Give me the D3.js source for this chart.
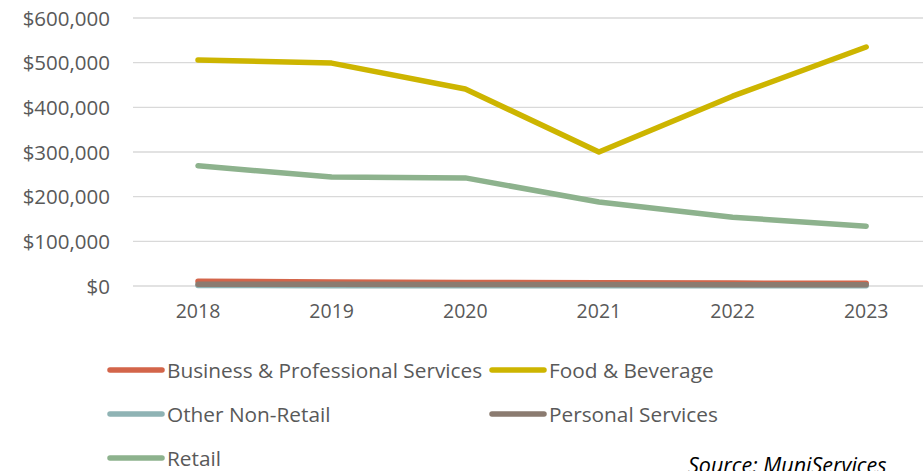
<!DOCTYPE html>
<html><head><meta charset="utf-8">
<script src="https://cdn.jsdelivr.net/npm/d3@7"></script>
<style>body{margin:0;background:#fff;overflow:hidden}svg{display:block}</style>
</head><body><svg id="c" width="923" height="471"></svg>
<script>
const years = ["2018","2019","2020","2021","2022","2023"];
const seriesNames = ["Business & Professional Services","Food & Beverage","Other Non-Retail","Personal Services","Retail"];
const businessProfessional = [10500, 9000, 8000, 7500, 6500, 6000];
const foodBeverage = [506000, 499000, 441000, 300000, 425000, 535000];
const otherNonRetail = [1000, 800, 700, 600, 600, 500];
const personalServices = [4000, 3800, 3500, 3200, 3000, 3000];
const retail = [269000, 244000, 242000, 188000, 154000, 134000];
const yTicks = [0, 100000, 200000, 300000, 400000, 500000, 600000];
const colors = ["#D3654A", "#CDB500", "#8FB3B4", "#8B7B70", "#8DB28D"];

const seriesValues = [businessProfessional, foodBeverage, otherNonRetail, personalServices, retail];
const svg = d3.select("#c");
const font = "'Open Sans',sans-serif";
const x = d3.scaleBand().domain(years).range([131.2, 933]);
const y = d3.scaleLinear().domain([0, 600000]).range([286, 18]);

// gridlines
svg.append("g").selectAll("line").data(yTicks).join("line")
  .attr("x1", 133).attr("x2", 923)
  .attr("y1", d => y(d)).attr("y2", d => y(d))
  .attr("stroke", "#d9d9d9").attr("stroke-width", 1.3);

// y axis labels
const yAxis = d3.axisLeft(y).tickValues(yTicks).tickSize(0).tickPadding(0)
  .tickFormat(d => "$" + d3.format(",")(d));
const ga = svg.append("g").attr("transform", "translate(110,0)").call(yAxis);
ga.select(".domain").remove();
ga.selectAll("text").attr("font-family", font).attr("font-size", 20.5).attr("fill", "#595959").attr("dy", "0.35em");

// x axis labels
const xAxis = d3.axisBottom(x).tickSize(0).tickPadding(0);
const gx = svg.append("g").attr("transform", "translate(0,304)").call(xAxis);
gx.select(".domain").remove();
gx.selectAll("text").attr("font-family", font).attr("font-size", 19.5).attr("fill", "#595959").attr("dy", "0.71em");

const line = d3.line().x((d, i) => x(years[i]) + x.bandwidth() / 2).y(d => y(d));
const drawOrder = [4, 1, 0, 2, 3];
svg.append("g").selectAll("path").data(drawOrder).join("path")
  .attr("d", k => line(seriesValues[k]))
  .attr("fill", "none").attr("stroke", k => colors[k])
  .attr("stroke-width", 5.5).attr("stroke-linecap", "round").attr("stroke-linejoin", "round");

// legend
const legendPos = [[108, 370], [490, 370], [108, 414], [490, 414], [108, 458]];
const lg = svg.append("g").selectAll("g").data(seriesNames).join("g")
  .attr("transform", (d, i) => `translate(${legendPos[i][0]},${legendPos[i][1]})`);
lg.append("line").attr("x1", 2).attr("x2", 54).attr("y1", 0).attr("y2", 0)
  .attr("stroke", (d, i) => colors[i]).attr("stroke-width", 5.5).attr("stroke-linecap", "round");
lg.append("text").attr("x", 59).attr("y", 0).attr("dy", "0.36em").text(d => d)
  .attr("font-family", font).attr("font-size", 20.8).attr("fill", "#595959");

svg.append("text").attr("x", 688).attr("y", 473).text("Source: MuniServices")
  .attr("font-family", font).attr("font-size", 21.5).attr("font-style", "italic").attr("fill", "#000");
</script></body></html>
